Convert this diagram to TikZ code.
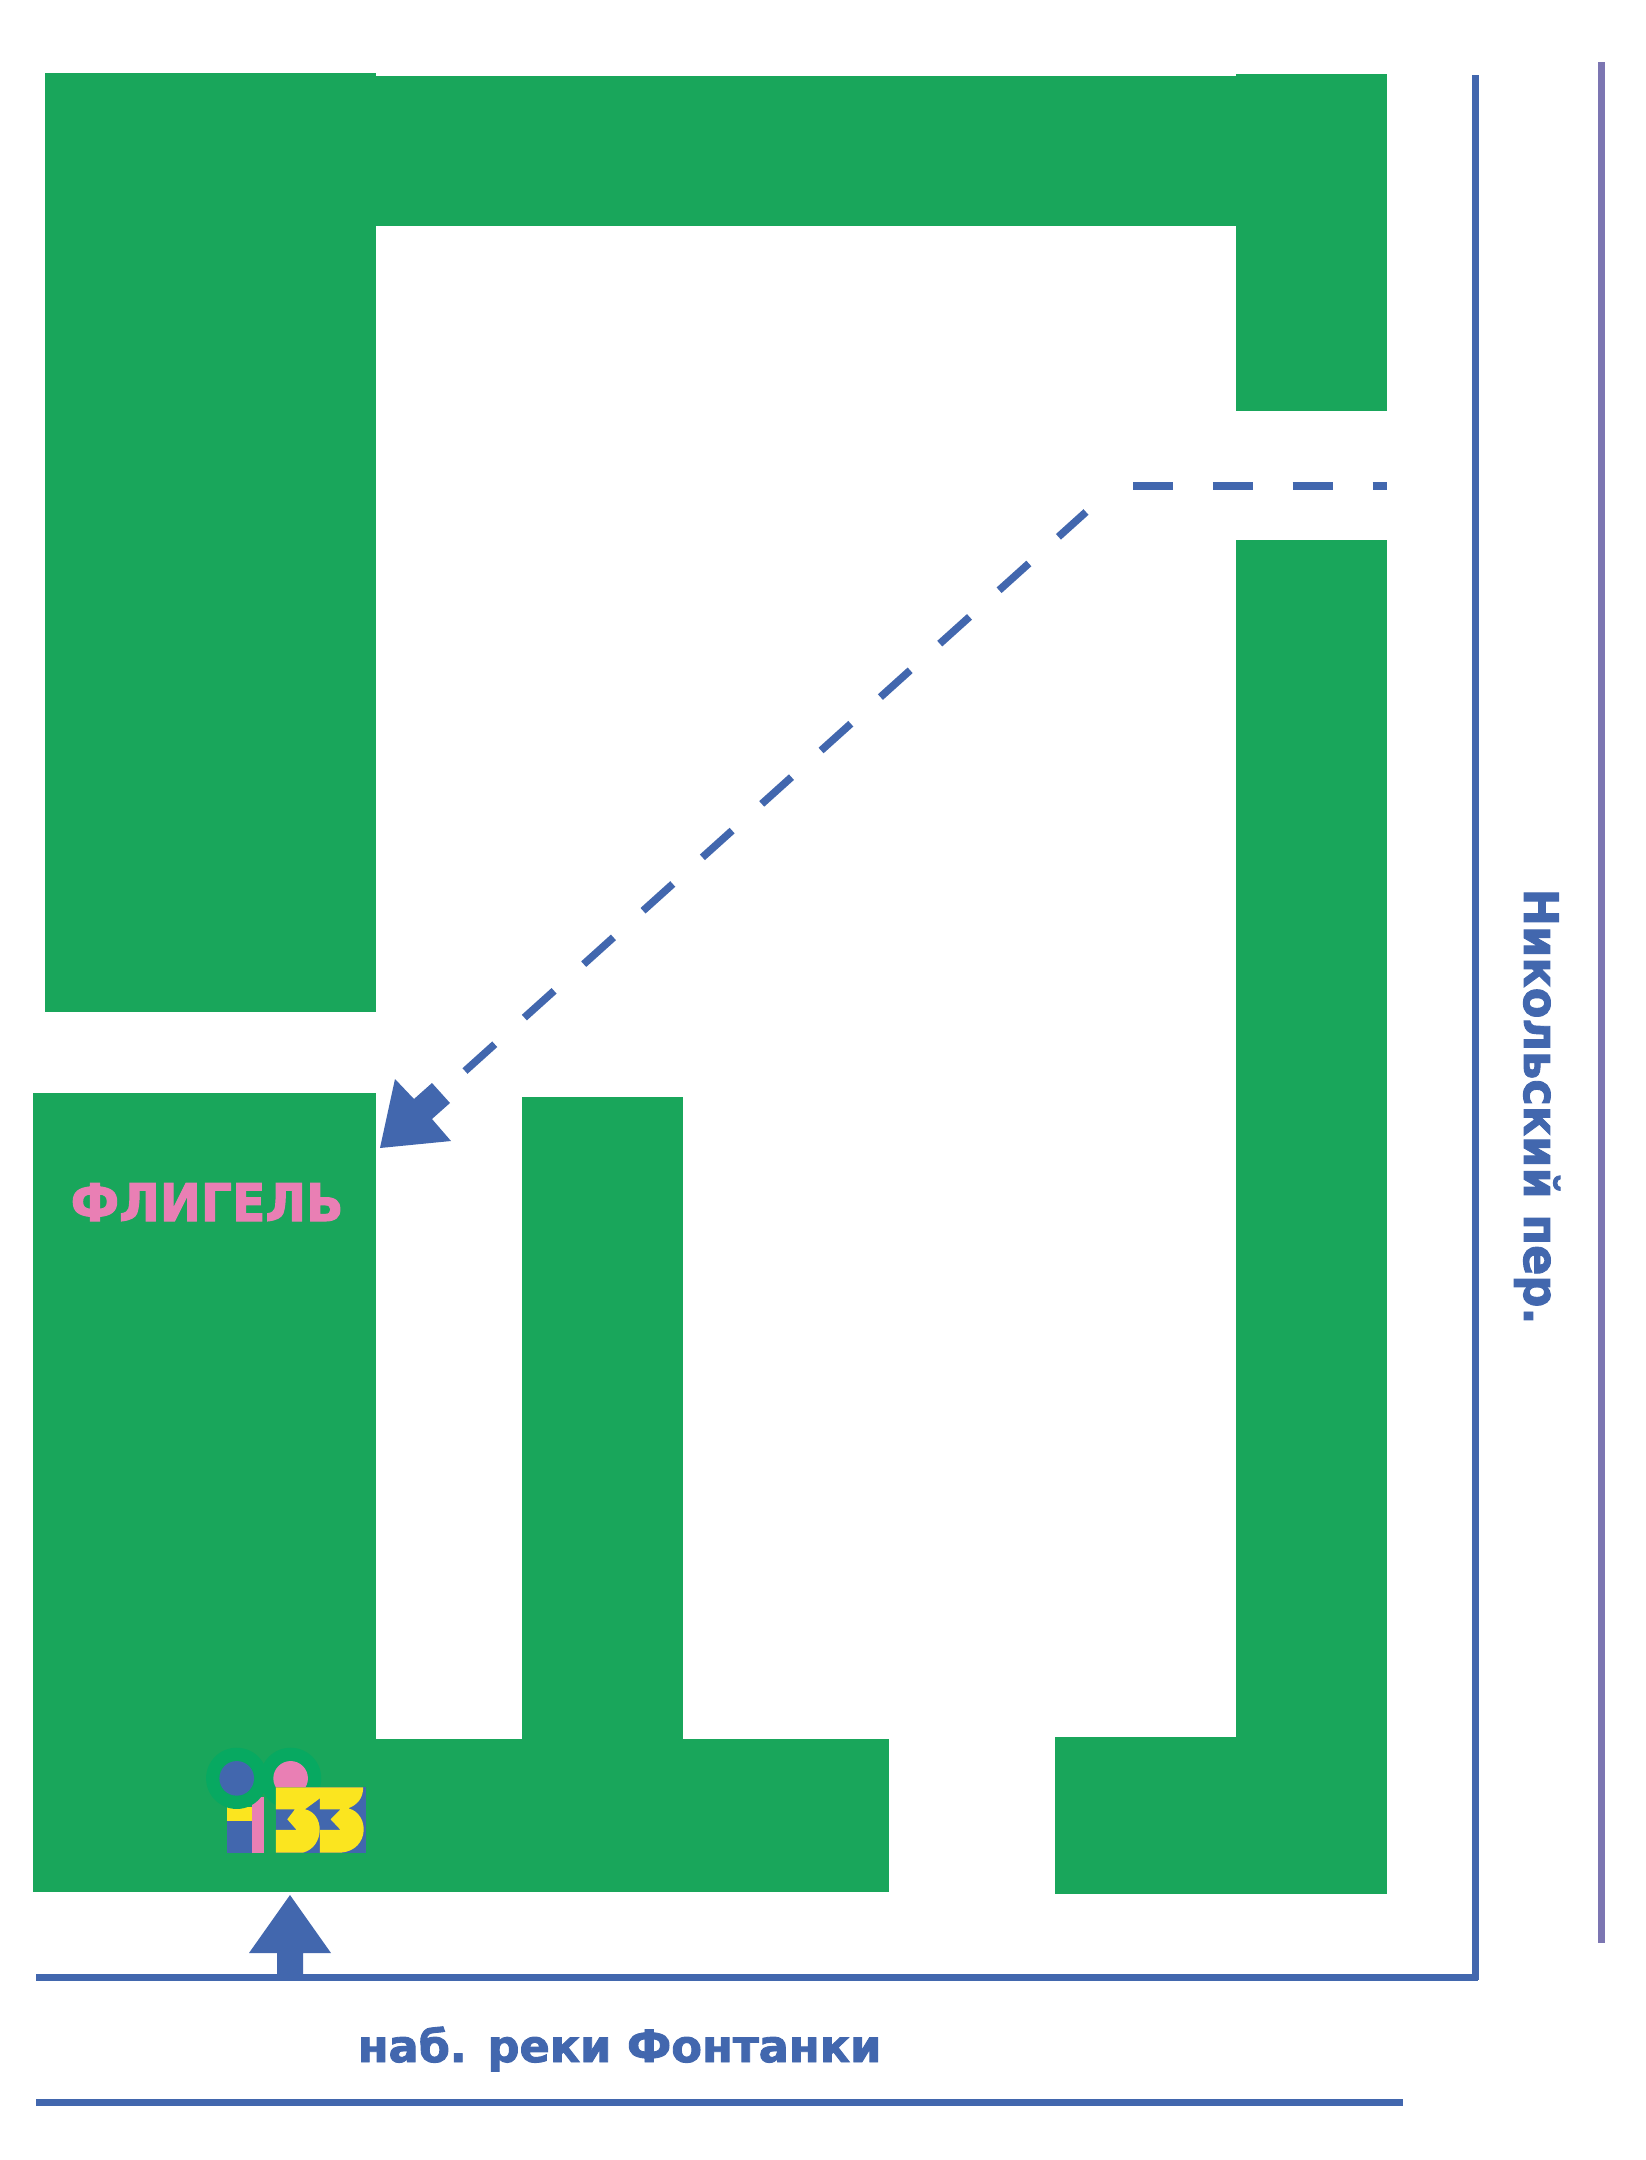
\documentclass[tikz,border=0pt]{standalone}
\usepackage{fontspec}
\setmainfont{DejaVu Sans}[BoldFeatures={FakeBold=2}]
\usepackage{tikz,graphics}
\definecolor{wallgreen}{HTML}{19A65B}
\definecolor{ringgreen}{HTML}{07A961}
\definecolor{streetblue}{HTML}{4267AE}
\definecolor{streetviolet}{HTML}{7C76B2}
\definecolor{logopink}{HTML}{E97FB4}
\definecolor{logoyellow}{HTML}{FBE51F}
\begin{document}
\begin{tikzpicture}[x=0.01cm, y=-0.01cm,
    wall/.style={fill=wallgreen},
    street/.style={draw=streetblue, line width=0.07cm},
    route/.style={draw=streetblue, line width=0.075cm, dash pattern=on 0.4cm off 0.398cm},
    label/.style={inner sep=0, text=streetblue, font=\bfseries\fontsize{12.7}{15}\selectfont}]
    \path [use as bounding box, fill=white] (0, 0) rectangle (1646, 2160);
    \fill [wall] (45, 73) rectangle (376, 1012);
    \fill [wall] (370, 76) rectangle (1387, 226);
    \fill [wall] (1236, 74) rectangle (1387, 411);
    \fill [wall] (1236, 540) rectangle (1387, 1783);
    \fill [wall] (1055, 1737) rectangle (1387, 1894);
    \fill [wall] (33, 1093) rectangle (376, 1892);
    \fill [wall] (33, 1739) rectangle (889, 1892);
    \fill [wall] (522, 1097) rectangle (683, 1745);
    \coordinate (s1) at (36, 1977);
    \coordinate (s2) at (1478, 1977);
    \coordinate (s3) at (1475, 75);
    \coordinate (s4) at (36, 2102);
    \coordinate (s5) at (1403, 2102);
    \coordinate (s6) at (1601, 62);
    \coordinate (s7) at (1601, 1943);
    \draw [street] (s1) -- (s2);
    \draw [street] (s3) -- (1475, 1980);
    \draw [street] (s4) -- (s5);
    \draw [street, draw=streetviolet] (s6) -- (s7);
    \coordinate (r1) at (1133, 486);
    \coordinate (r2) at (1387, 486);
    \coordinate (r3) at (465, 1071);
    \coordinate (r4) at (1086, 512);
    \draw [route] (r1) -- (r2);
    \draw [route] (r3) -- (r4);
    \fill [streetblue] (380, 1148) -- (395, 1079) -- (414, 1099) -- (432, 1083) -- (450, 1103)
        -- (432, 1119) -- (451, 1141) -- cycle;
    \fill [streetblue] (290, 1895) -- (331, 1953) -- (303, 1953) -- (303, 1977) -- (277, 1977)
        -- (277, 1953) -- (249, 1953) -- cycle;
    \node [label, anchor=base west] (quay) at (357, 2062) {наб. реки Фонтанки};
    \node [label, anchor=base west, rotate=-90] (lane) at (1524, 888) {\scalebox{1}[1.06]{Никольский пер.}};
    \node [label, anchor=base west, text=logopink, font=\bfseries\fontsize{14.8}{18}\selectfont] (wing) at (70, 1221) {\scalebox{0.94}[1]{ФЛИГЕЛЬ}};
    \begin{scope}[shift={(270, 1780)}, x=0.00333cm, y=-0.00333cm]
    \fill [ringgreen] (62, -5) circle (92);
    \fill [logoyellow] (-129, 80) rectangle (-55, 122);
    \fill [streetblue] (-129, 122) rectangle (-55, 218);
    \fill [logopink] (-55, 50) rectangle (-18, 218);
    \fill [ringgreen] (-100, -5) circle (92);
    \fill [streetblue] (-100, -5) circle (52);
    \fill [logopink] (62, -5) circle (52);
    \fill [streetblue] (18, 22) rectangle (288, 218);
    \fill [logoyellow] (18, 22) -- (150, 22) -- (150, 55) -- (105, 88)
        .. controls (165, 100) and (165, 200) .. (100, 218) -- (18, 218) -- (18, 150)
        -- (80, 150) -- (52, 118) -- (75, 88) -- (18, 88) -- cycle;
    \fill [logoyellow] (150, 22) -- (280, 22) .. controls (280, 55) and (262, 75) .. (235, 85)
        .. controls (300, 100) and (300, 210) .. (215, 218) -- (150, 218) -- (150, 150)
        -- (212, 150) -- (182, 118) -- (212, 88) -- (150, 88) -- cycle;
    \end{scope}
\end{tikzpicture}
\end{document}
